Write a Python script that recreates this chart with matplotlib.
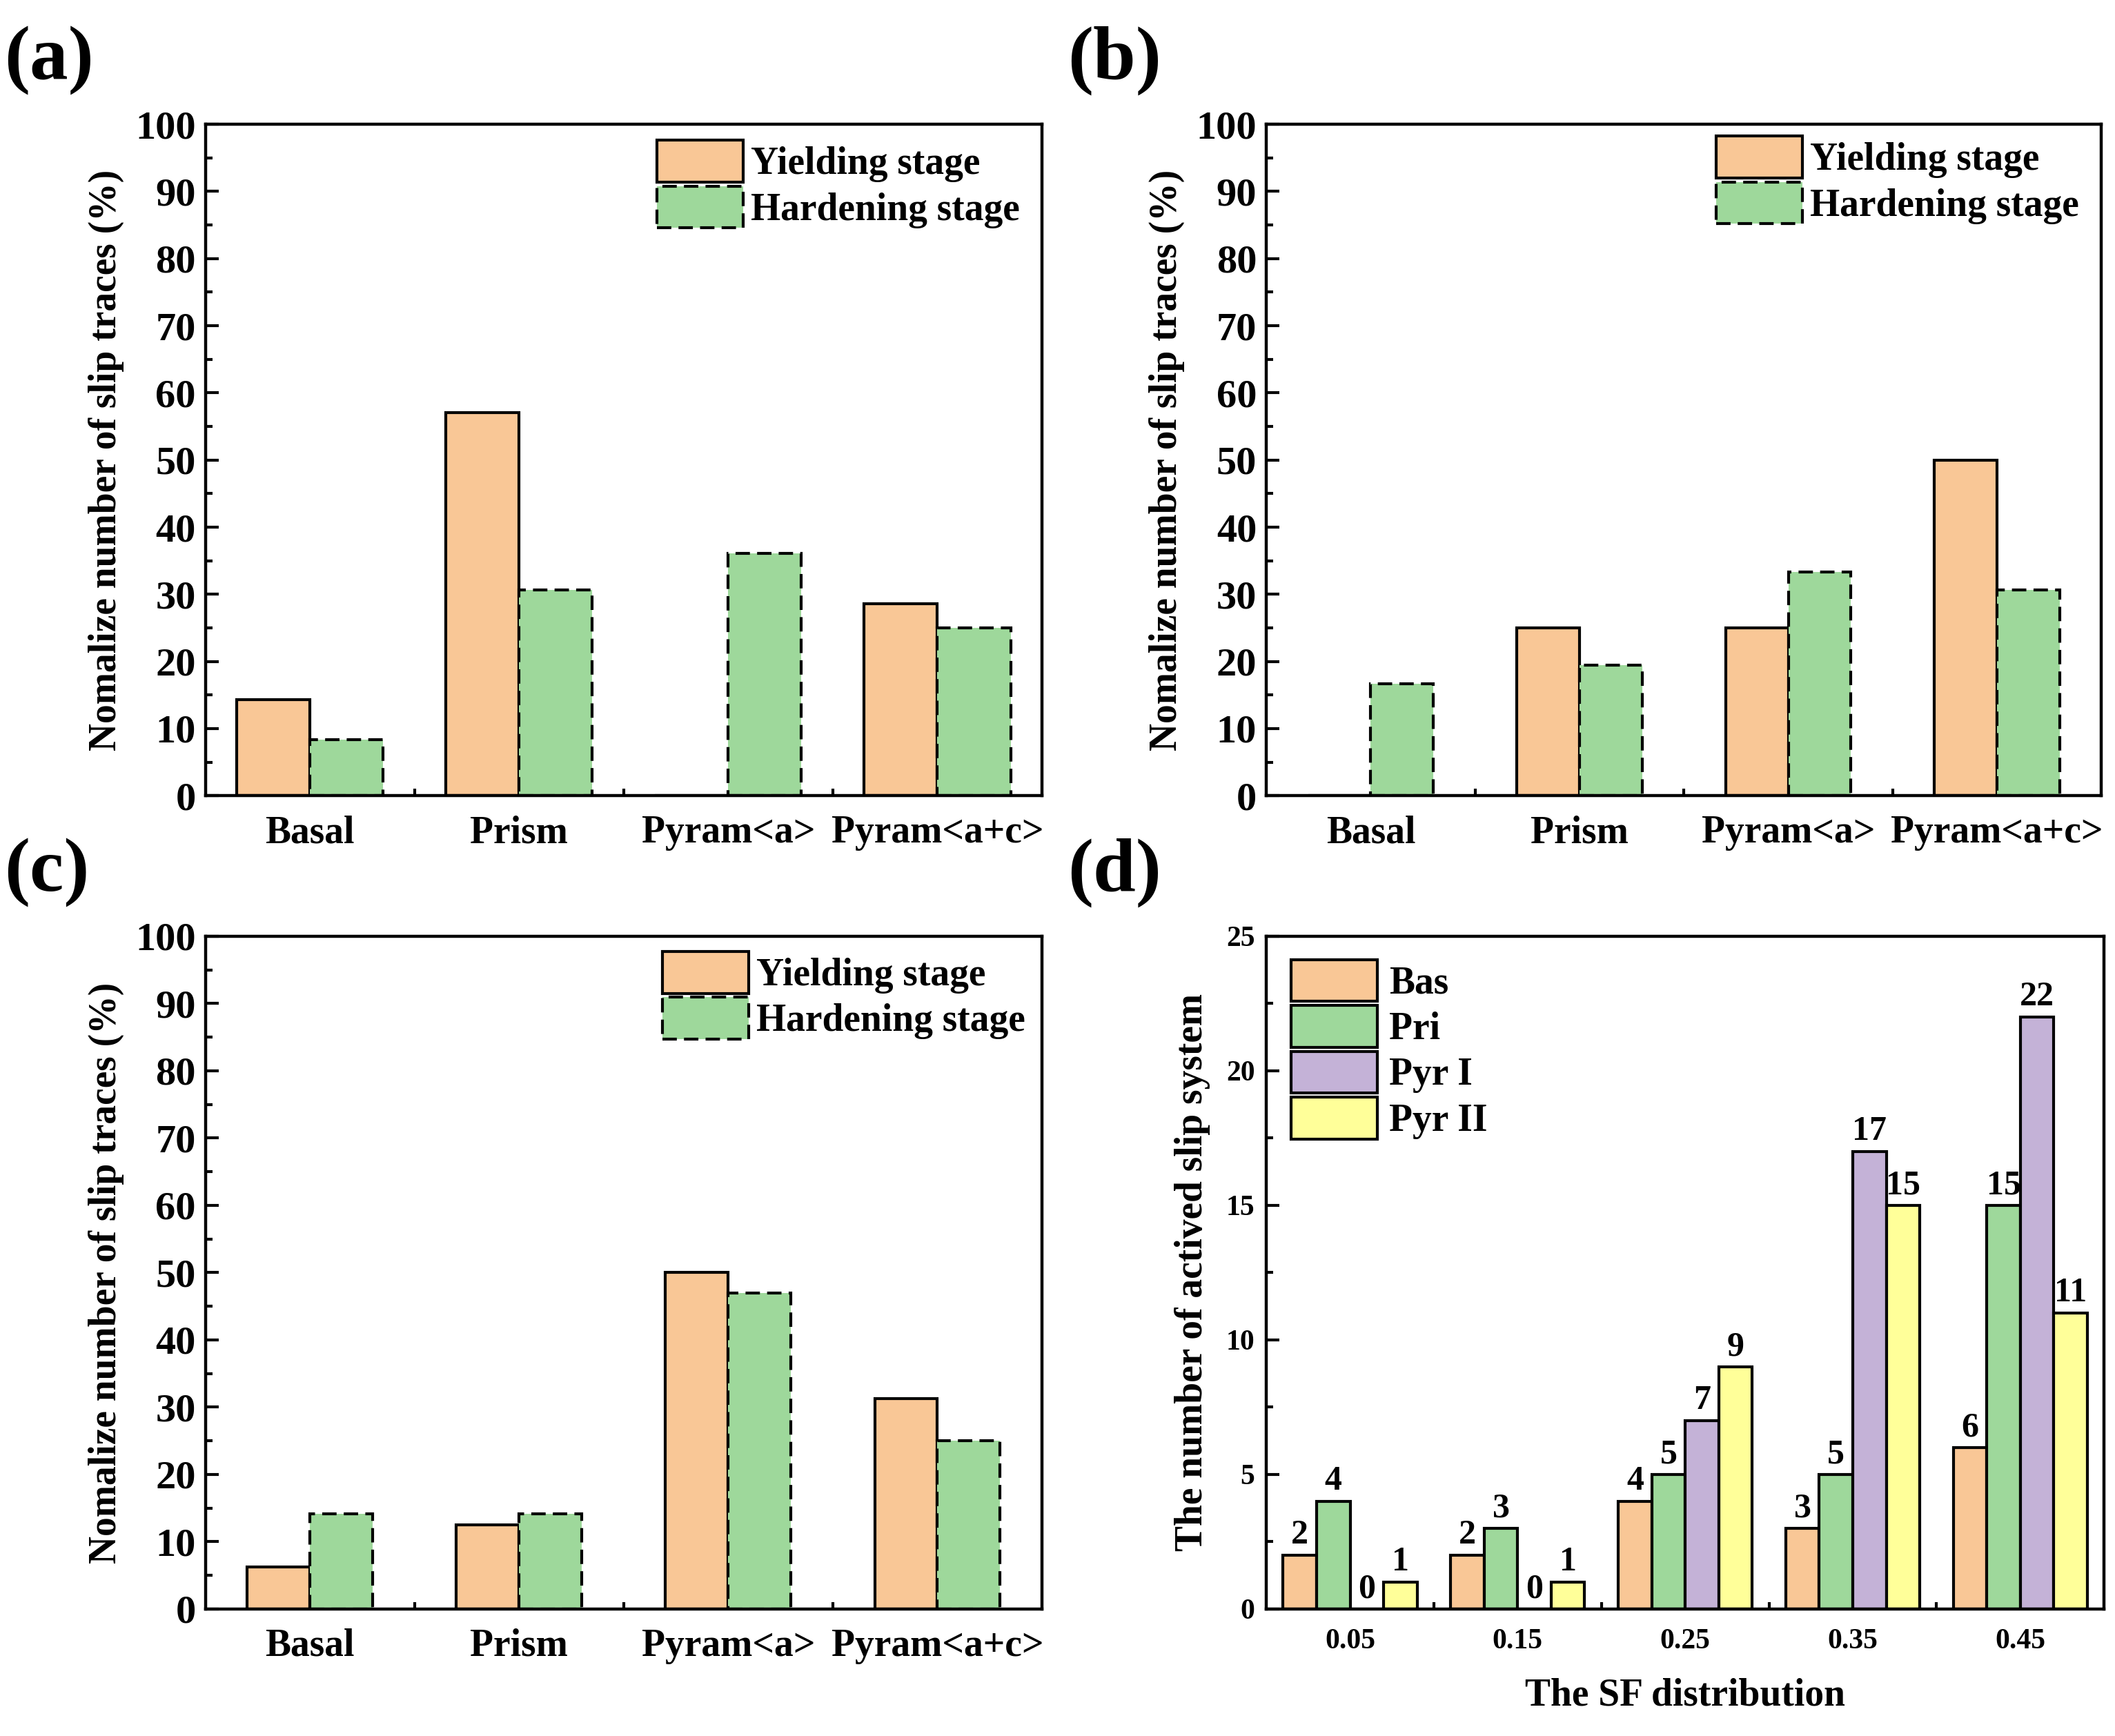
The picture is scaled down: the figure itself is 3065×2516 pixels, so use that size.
import numpy as np
import matplotlib
matplotlib.use('Agg')
import matplotlib.pyplot as plt
from matplotlib.ticker import MultipleLocator, FixedLocator

plt.rcParams['font.family'] = ['Liberation Serif', 'DejaVu Serif']
plt.rcParams['font.weight'] = 'bold'
plt.rcParams['axes.labelweight'] = 'bold'

# data
slip_modes = ['Basal', 'Prism', 'Pyram<a>', 'Pyram<a+c>']
yield_a = [14.3, 57.1, 0, 28.6]
harden_a = [8.3, 30.6, 36.1, 25.0]
yield_b = [0, 25.0, 25.0, 50.0]
harden_b = [16.7, 19.4, 33.3, 30.6]
yield_c = [6.25, 12.5, 50.0, 31.25]
harden_c = [14.1, 14.1, 47.0, 25.0]

sf_bins = [0.05, 0.15, 0.25, 0.35, 0.45]
bas = [2, 2, 4, 3, 6]
pri = [4, 3, 5, 5, 15]
pyr1 = [0, 0, 7, 17, 22]
pyr2 = [1, 1, 9, 15, 11]

c_orange = '#F9C796'
c_green = '#9ED89B'
c_purple = '#C4B2D7'
c_yellow = '#FFFF99'

fig = plt.figure(figsize=(15.325, 12.58), dpi=200)

W, H = 1565.0, 1285.0
def box(l, t, r, b):
    return [l / W, 1 - b / H, (r - l) / W, (b - t) / H]


def style_axis(ax):
    for s in ax.spines.values():
        s.set_linewidth(1.6)
    ax.tick_params(axis='both', which='both', direction='in', top=False, right=False)
    ax.tick_params(axis='y', which='major', length=7, width=1.5)
    ax.tick_params(axis='y', which='minor', length=3.5, width=1.5)
    ax.tick_params(axis='x', which='major', length=0)
    ax.tick_params(axis='x', which='minor', length=3.5, width=1.5)


def stage_panel(ax, yv, hv, w, leg_x, leg_y):
    x = np.arange(len(slip_modes))
    ax.bar(x - w / 2, yv, w, color=c_orange, edgecolor='black', linewidth=1.5,
           label='Yielding stage')
    ax.bar(x + w / 2, hv, w, color=c_green, edgecolor='black', linewidth=1.5,
           linestyle=(0, (5, 2.5)), label='Hardening stage')
    ax.set_xlim(-0.5, 3.5)
    ax.set_ylim(0, 100)
    ax.set_xticks(x)
    ax.set_xticklabels(slip_modes, fontsize=20)
    ax.xaxis.set_minor_locator(FixedLocator([0.5, 1.5, 2.5]))
    ax.yaxis.set_major_locator(MultipleLocator(10))
    ax.yaxis.set_minor_locator(MultipleLocator(5))
    ax.tick_params(axis='y', labelsize=21, pad=5)
    ax.tick_params(axis='x', pad=10)
    ax.set_ylabel('Nomalize number of slip traces (%)', fontsize=20, labelpad=6)
    style_axis(ax)
    ax.legend(loc='upper right', frameon=False, fontsize=20, handlelength=2.25,
              handleheight=1.3, labelspacing=0.1, handletextpad=0.2,
              borderpad=0.1, borderaxespad=0.0, bbox_to_anchor=(leg_x, leg_y))


ax_a = fig.add_axes(box(152, 92, 771, 589))
stage_panel(ax_a, yield_a, harden_a, 0.35, 0.978, 0.982)
ax_b = fig.add_axes(box(937, 92, 1555, 589))
stage_panel(ax_b, yield_b, harden_b, 0.30, 0.978, 0.988)
ax_c = fig.add_axes(box(152, 693, 771, 1191))
stage_panel(ax_c, yield_c, harden_c, 0.30, 0.985, 0.983)

# panel d
ax_d = fig.add_axes(box(937, 693, 1557, 1191))
bw = 0.02
series = [(bas, 'Bas', c_orange), (pri, 'Pri', c_green),
          (pyr1, 'Pyr I', c_purple), (pyr2, 'Pyr II', c_yellow)]
xs = np.array(sf_bins)
for i, (vals, name, col) in enumerate(series):
    bars = ax_d.bar(xs + (i - 1.5) * bw, vals, bw, color=col, edgecolor='black',
                    linewidth=1.5, label=name)
    ax_d.bar_label(bars, labels=[str(v) for v in vals], padding=2, fontsize=18)
ax_d.set_xlim(0, 0.5)
ax_d.set_ylim(0, 25)
ax_d.set_xticks(sf_bins)
ax_d.set_xticklabels(['0.05', '0.15', '0.25', '0.35', '0.45'], fontsize=15)
ax_d.xaxis.set_minor_locator(FixedLocator([0.1, 0.2, 0.3, 0.4]))
ax_d.yaxis.set_major_locator(MultipleLocator(5))
ax_d.yaxis.set_minor_locator(MultipleLocator(2.5))
ax_d.tick_params(axis='y', labelsize=15, pad=6)
ax_d.tick_params(axis='x', pad=10)
ax_d.set_xlabel('The SF distribution', fontsize=20, labelpad=12)
ax_d.set_ylabel('The number of actived slip system', fontsize=20, labelpad=8)
style_axis(ax_d)
ax_d.legend(loc='upper left', frameon=False, fontsize=20, handlelength=2.25,
            handleheight=1.3, labelspacing=0.1, handletextpad=0.3,
            borderpad=0.1, borderaxespad=0.0, bbox_to_anchor=(0.025, 0.971))

for lab, (px, py) in zip(['(a)', '(b)', '(c)', '(d)'],
                         [(3, 45), (790, 45), (3, 646), (790, 646)]):
    fig.text(px / W, 1 - py / H, lab, fontsize=40, fontweight='bold',
             ha='left', va='center')

fig.savefig('out.png', dpi=200)
